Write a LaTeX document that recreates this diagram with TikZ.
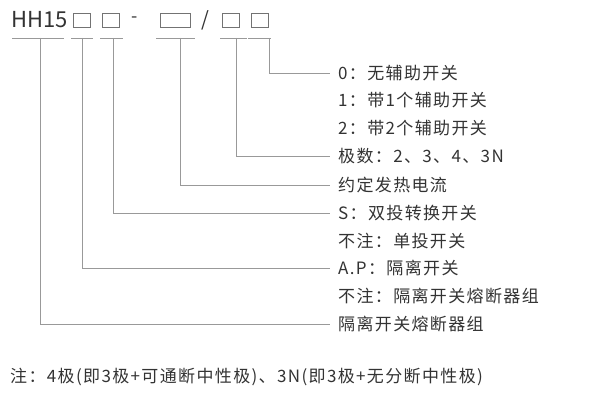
\documentclass[tikz,border=0pt]{standalone}
\usepackage{fontspec}
\setmainfont{Noto Sans CJK SC}
\newfontfamily\wide[LetterSpace=8]{Noto Sans CJK SC}
\begin{document}
\begin{tikzpicture}[x=1pt,y=-1pt,
  lab/.style={anchor=west,inner sep=0pt,text=black!80,font=\wide\fontsize{17}{17}\selectfont},
  ln/.style={draw=black!40,line width=0.8pt},
  bx/.style={draw=black!55,line width=0.7pt}]
\useasboundingbox (0,0) rectangle (600,409);
\node[anchor=west,inner sep=0pt,text=black!80,font=\fontsize{22}{22}\selectfont] (hh) at (11,20) {HH15};
\draw[bx] (73,13) rectangle (90,27);
\draw[bx] (102,13) rectangle (119,27);
\node[inner sep=0pt,text=black!80,font=\fontsize{18}{18}\selectfont] (d) at (135,20) {-};
\draw[bx] (160,13) rectangle (190,27);
\node[inner sep=0pt,text=black!80,font=\fontsize{20}{20}\selectfont] (s) at (205,20) {/};
\draw[bx] (222,13) rectangle (239,27);
\draw[bx] (251,13) rectangle (268,27);
\foreach \a/\b in {12/64,71/93,100/123,156/195,220/247,248/271}
  \draw[ln] (\a,38) -- (\b,38);
\node[lab] (l1) at (338,73) {0：无辅助开关};
\node[lab] (l2) at (338,100) {1：带1个辅助开关};
\node[lab] (l3) at (338,128) {2：带2个辅助开关};
\node[lab] (l4) at (338,156) {极数：2、3、4、3N};
\node[lab] (l5) at (338,185) {约定发热电流};
\node[lab] (l6) at (338,213) {S：双投转换开关};
\node[lab] (l7) at (338,241) {不注：单投开关};
\node[lab] (l8) at (338,268) {A.P：隔离开关};
\node[lab] (l9) at (338,296) {不注：隔离开关熔断器组};
\node[lab] (l10) at (338,324) {隔离开关熔断器组};
\node[lab] (n) at (10,377) {注：4极(即3极+可通断中性极)、3N(即3极+无分断中性极)};
\draw[ln] (269,38) |- (330,73);
\draw[ln] (236,38) |- (330,156);
\draw[ln] (180,38) |- (330,185);
\draw[ln] (113,38) |- (330,213);
\draw[ln] (82,38) |- (330,268);
\draw[ln] (40,38) |- (330,324);
\end{tikzpicture}
\end{document}
